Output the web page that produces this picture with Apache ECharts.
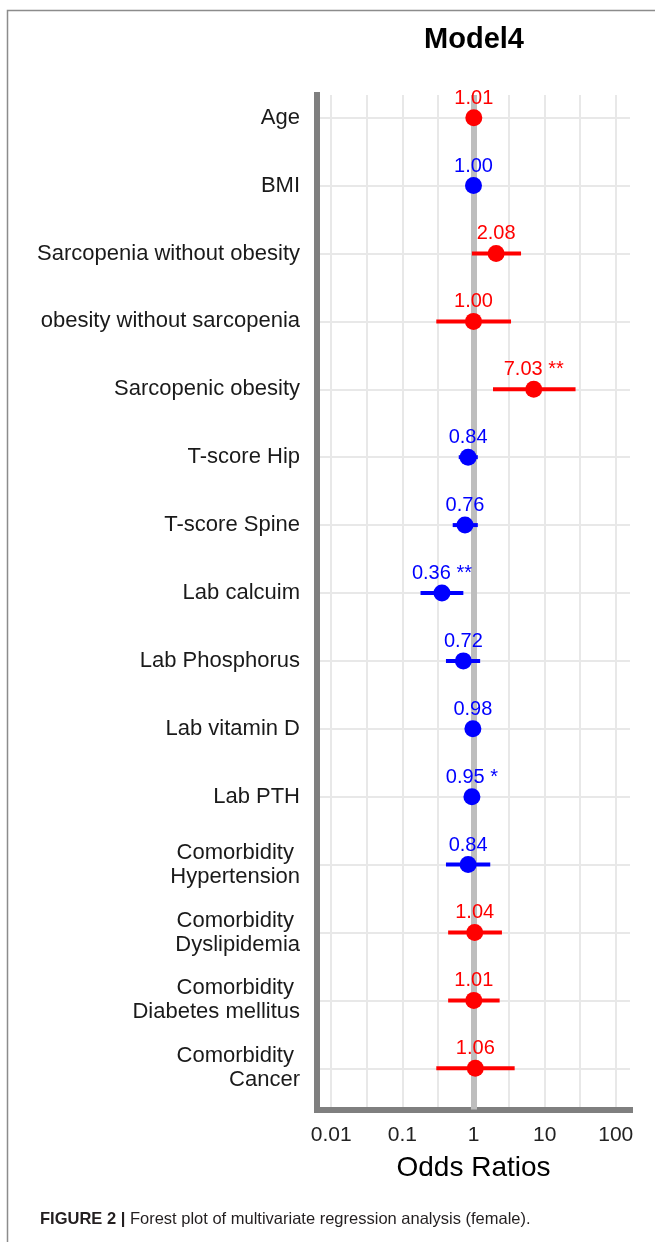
<!DOCTYPE html>
<html>
<head>
<meta charset="utf-8">
<script src="https://cdn.jsdelivr.net/npm/echarts@6/dist/echarts.min.js"></script>
<style>
  html, body { margin: 0; padding: 0; background: #fff; }
  #chart { width: 655px; height: 1242px; }
</style>
</head>
<body>
<div id="chart"></div>
<script>
// rows, top to bottom
var categories = [
    'Age', 'BMI', 'Sarcopenia without obesity', 'obesity without sarcopenia',
    'Sarcopenic obesity', 'T-score Hip', 'T-score Spine', 'Lab calcuim',
    'Lab Phosphorus', 'Lab vitamin D', 'Lab PTH',
    'Comorbidity \nHypertension', 'Comorbidity \nDyslipidemia',
    'Comorbidity \nDiabetes mellitus', 'Comorbidity \nCancer'
];
var oddsRatio = [1.01, 1.00, 2.08, 1.00, 7.03, 0.84, 0.76, 0.36, 0.72, 0.98, 0.95, 0.84, 1.04, 1.01, 1.06];
var ciLow     = [0.99, 0.99, 0.95, 0.30, 1.88, 0.62, 0.51, 0.18, 0.41, 0.97, 0.92, 0.41, 0.44, 0.44, 0.30];
var ciHigh    = [1.03, 1.01, 4.66, 3.37, 27.2, 1.15, 1.15, 0.72, 1.24, 0.99, 0.98, 1.72, 2.51, 2.33, 3.79];
var stars     = ['', '', '', '', '**', '', '', '**', '', '', '*', '', '', '', ''];
// true = risk (red), false = protective (blue)
var isRisk    = [true, false, true, true, true, false, false, false, false, false, false, false, true, true, true];

var xTickLabels = [0.01, 0.1, 1, 10, 100];
var xGridExp = [-2, -1.5, -1, -0.5, 0, 0.5, 1, 1.5, 2];

var RED = '#ff0000', BLUE = '#0000ff';
var FONT = '"Liberation Sans", Arial, sans-serif';

var rowIdx = categories.map(function (c, i) { return i; });
var xTickExp = xTickLabels.map(function (t) { return Math.log10(t); });

var points = oddsRatio.map(function (v, i) {
    var lab = v.toFixed(2) + (stars[i] ? ' ' + stars[i] : '');
    return {
        value: [Math.log10(v), i],
        itemStyle: { color: isRisk[i] ? RED : BLUE, opacity: 1 },
        label: { formatter: lab, color: isRisk[i] ? RED : BLUE }
    };
});

var bars = oddsRatio.map(function (v, i) {
    return [Math.log10(ciLow[i]), Math.log10(ciHigh[i]), i];
});

var myChart = echarts.init(document.getElementById('chart'), null, { renderer: 'canvas' });

var option = {
    animation: false,
    backgroundColor: '#fff',
    textStyle: { fontFamily: FONT },
    title: {
        text: 'Model4',
        left: 474,
        top: 25,
        textAlign: 'center',
        padding: 0,
        textStyle: { fontSize: 29, fontWeight: 'bold', color: '#000', fontFamily: FONT }
    },
    grid: { left: 317, right: 25, top: 95, bottom: 132.5 },
    xAxis: {
        type: 'value',
        min: -2.2,
        max: 2.2,
        name: 'Odds Ratios',
        nameLocation: 'middle',
        nameGap: 45,
        nameTextStyle: { fontSize: 28, color: '#000', fontFamily: FONT },
        axisLine: { onZero: false, lineStyle: { color: '#7f7f7f', width: 6, cap: 'square' } },
        axisTick: { show: false, customValues: xGridExp },
        axisLabel: {
            customValues: xTickExp,
            margin: 15,
            fontSize: 21,
            color: '#222',
            formatter: function (v) {
                var k = xTickExp.indexOf(v);
                return k >= 0 ? String(xTickLabels[k]) : '';
            }
        },
        splitLine: { show: true, lineStyle: { color: '#e8e8e8', width: 2 } }
    },
    yAxis: {
        type: 'value',
        inverse: true,
        min: -0.334,
        max: 14.607,
        axisLine: { show: true, onZero: false, lineStyle: { color: '#7f7f7f', width: 6, cap: 'square' } },
        axisTick: { show: false, customValues: rowIdx },
        axisLabel: {
            customValues: rowIdx,
            margin: 17,
            fontSize: 22,
            lineHeight: 24,
            color: '#1a1a1a',
            formatter: function (v) { return categories[v] || ''; }
        },
        splitLine: { show: true, lineStyle: { color: '#e8e8e8', width: 2 } }
    },
    series: [
        {
            // reference line at OR = 1
            type: 'line',
            data: [],
            z: 1,
            markLine: {
                silent: true,
                z: 1,
                symbol: ['none', 'none'],
                label: { show: false },
                lineStyle: { color: '#bebebe', width: 6, type: 'solid' },
                emphasis: { disabled: true },
                data: [{ xAxis: 0 }]
            }
        },
        {
            type: 'custom',
            z: 2,
            data: bars,
            renderItem: function (params, api) {
                var a = api.coord([api.value(0), api.value(2)]);
                var b = api.coord([api.value(1), api.value(2)]);
                return {
                    type: 'line',
                    shape: { x1: a[0], y1: a[1], x2: b[0], y2: b[1] },
                    style: { stroke: isRisk[params.dataIndex] ? RED : BLUE, lineWidth: 4 }
                };
            }
        },
        {
            type: 'scatter',
            z: 3,
            symbolSize: 17,
            data: points,
            label: {
                show: true,
                position: 'top',
                distance: 1,
                fontSize: 20,
                fontFamily: FONT
            }
        }
    ],
    graphic: [
        {
            type: 'rect',
            shape: { x: 7.5, y: 10.5, width: 700, height: 1400 },
            style: { fill: 'none', stroke: '#8c8c8c', lineWidth: 1.5 },
            silent: true
        },
        {
            type: 'text',
            left: 40,
            top: 1211,
            style: {
                text: '{b|FIGURE 2 |} Forest plot of multivariate regression analysis (female).',
                fontSize: 16.5,
                fontFamily: FONT,
                fill: '#231f20',
                rich: { b: { fontWeight: 'bold', fontSize: 16.5, fontFamily: FONT } }
            }
        }
    ]
};

myChart.setOption(option);
</script>
</body>
</html>
